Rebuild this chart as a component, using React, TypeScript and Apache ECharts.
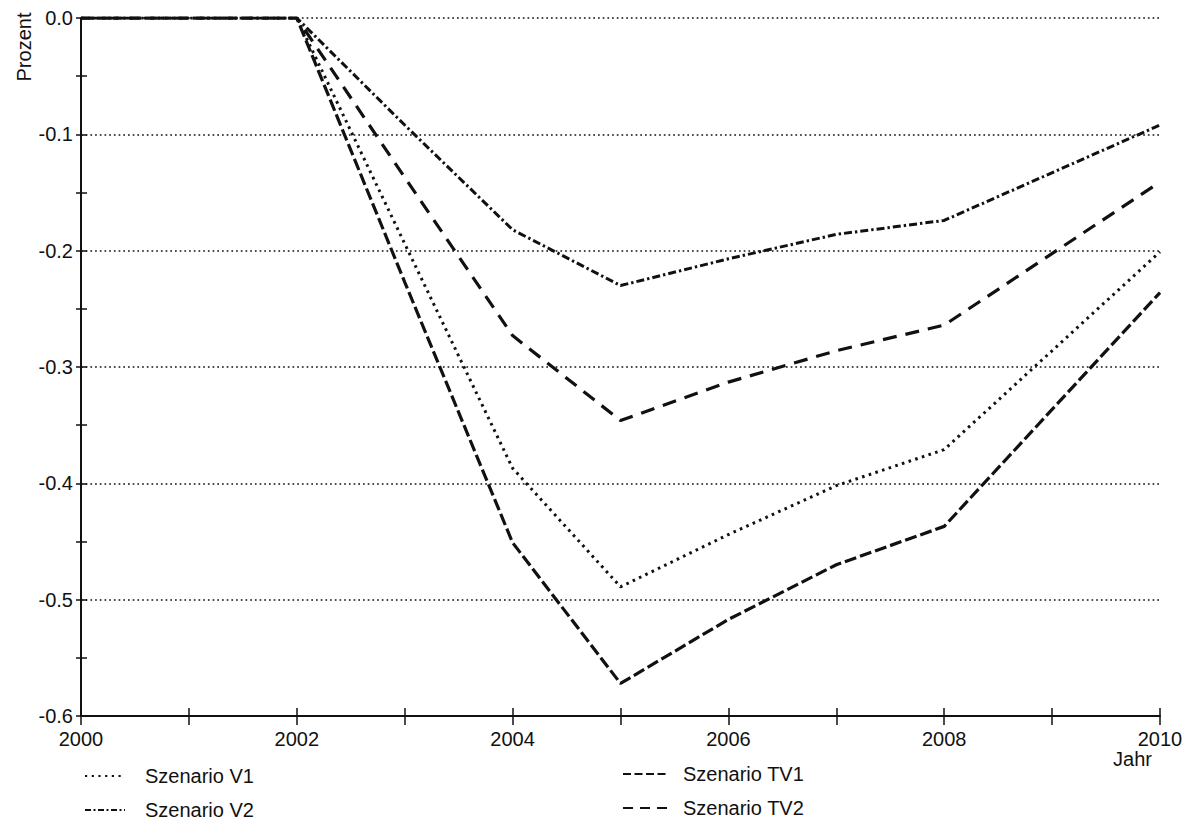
import React, { useEffect, useRef } from "react";
import * as echarts from "echarts";

// Simulated deviation (percent) per scenario, by year
const years = [2000, 2001, 2002, 2003, 2004, 2005, 2006, 2007, 2008, 2010];
const szenarioV1 = [0, 0, 0, -0.194, -0.387, -0.489, -0.444, -0.402, -0.371, -0.201];
const szenarioV2 = [0, 0, 0, -0.092, -0.182, -0.23, -0.207, -0.186, -0.174, -0.092];
const szenarioTV1 = [0, 0, 0, -0.227, -0.451, -0.572, -0.517, -0.47, -0.437, -0.236];
const szenarioTV2 = [0, 0, 0, -0.137, -0.273, -0.346, -0.313, -0.286, -0.264, -0.141];

const seriesNames = ["Szenario V1", "Szenario V2", "Szenario TV1", "Szenario TV2"];
const yLabelTitle = "Prozent";
const xLabelTitle = "Jahr";

const FONT = "'Liberation Sans', Arial, Helvetica, sans-serif";
const INK = "#111";

// Line dash patterns and widths per scenario
const dashes = [[2.6, 4.4], [8, 3, 2.4, 3], [12, 4], [14, 9]];
const legendDashes = [[2.2, 4.5], [6, 2.5, 2, 2.5], [8, 3.5], [10, 7]];
const widths = [3, 3, 3.2, 3.2];

const pairs = (vals: number[]) => years.map((y, i) => [y, vals[i]]);

export default function App() {
  const ref = useRef<HTMLDivElement>(null);

  useEffect(() => {
    if (!ref.current) return;
    const chart = echarts.init(ref.current, undefined, { renderer: "svg" });

    const lineSeries = (idx: number, vals: number[]) => ({
      name: seriesNames[idx],
      type: "line",
      data: pairs(vals),
      symbol: "none",
      showSymbol: false,
      xAxisIndex: 0,
      yAxisIndex: 0,
      lineStyle: { color: INK, width: widths[idx], type: dashes[idx], cap: "butt" },
      itemStyle: { color: INK },
      z: 5,
    });

    const xBase = {
      type: "value",
      min: 2000,
      max: 2010,
      interval: 1,
      position: "bottom",
      splitLine: { show: false },
    };
    const yBase = {
      type: "value",
      min: -0.6,
      max: 0,
      position: "left",
    };

    // Legend: two columns, each entry a dashed sample line followed by its name
    const legendSlots = [
      { x1: 85, x2: 125, tx: 145, y: 776 },
      { x1: 85, x2: 125, tx: 145, y: 810 },
      { x1: 623, x2: 667, tx: 683, y: 774 },
      { x1: 623, x2: 667, tx: 683, y: 808 },
    ];
    const legendGraphics: any[] = [];
    seriesNames.forEach((name, i) => {
      const s = legendSlots[i];
      legendGraphics.push({
        type: "line",
        shape: { x1: s.x1, y1: s.y, x2: s.x2, y2: s.y },
        style: { stroke: INK, lineWidth: 2.2, lineDash: legendDashes[i], lineCap: "butt" },
      });
      legendGraphics.push({
        type: "text",
        x: s.tx,
        y: s.y,
        style: { text: name, font: `20px ${FONT}`, fill: INK, align: "left", verticalAlign: "middle" },
      });
    });

    chart.setOption({
      animation: false,
      backgroundColor: "#fff",
      textStyle: { fontFamily: FONT, color: INK },
      grid: { left: 81, right: 44, top: 18, bottom: 107, containLabel: false },
      xAxis: [
        {
          ...xBase,
          axisLine: { show: true, onZero: false, lineStyle: { color: INK, width: 2 } },
          axisTick: { show: true, inside: false, length: 9, lineStyle: { color: INK, width: 1.5 } },
          axisLabel: {
            show: true,
            margin: 13,
            fontSize: 20,
            fontFamily: FONT,
            color: INK,
            formatter: (v: number) => (Math.round(v) % 2 === 0 ? String(Math.round(v)) : ""),
            showMinLabel: true,
            showMaxLabel: true,
          },
        },
        {
          ...xBase,
          axisLine: { show: false, onZero: false },
          axisTick: { show: true, inside: true, length: 8, lineStyle: { color: INK, width: 1.5 } },
          axisLabel: { show: false },
        },
      ],
      yAxis: [
        {
          ...yBase,
          interval: 0.05,
          axisLine: { show: true, onZero: false, lineStyle: { color: INK, width: 2 } },
          axisTick: { show: true, inside: false, length: 5, lineStyle: { color: INK, width: 1.5 } },
          axisLabel: {
            show: true,
            margin: 8,
            fontSize: 20,
            fontFamily: FONT,
            color: INK,
            formatter: (v: number) =>
              Math.abs(Math.round(v * 100)) % 10 === 0
                ? (Math.round(v * 10) / 10).toFixed(1).replace("-0.0", "0.0")
                : "",
          },
          splitLine: { show: false },
        },
        {
          ...yBase,
          interval: 0.05,
          axisLine: { show: false, onZero: false },
          axisTick: { show: true, inside: true, length: 6, lineStyle: { color: INK, width: 1.5 } },
          axisLabel: { show: false },
          splitLine: { show: false },
        },
        {
          ...yBase,
          interval: 0.1,
          axisLine: { show: false, onZero: false },
          axisTick: { show: false },
          axisLabel: { show: false },
          splitLine: { show: true, lineStyle: { color: INK, width: 1.7, type: [1.7, 3] } },
        },
      ],
      graphic: [
        {
          type: "text",
          x: 24,
          y: 47,
          rotation: Math.PI / 2,
          style: {
            text: yLabelTitle,
            font: `20px ${FONT}`,
            fill: INK,
            align: "center",
            verticalAlign: "middle",
          },
        },
        {
          type: "text",
          x: 1152,
          y: 759,
          style: {
            text: xLabelTitle,
            font: `20px ${FONT}`,
            fill: INK,
            align: "right",
            verticalAlign: "middle",
          },
        },
        ...legendGraphics,
      ],
      series: [
        lineSeries(0, szenarioV1),
        lineSeries(1, szenarioV2),
        lineSeries(2, szenarioTV1),
        lineSeries(3, szenarioTV2),
      ],
    });

    return () => chart.dispose();
  }, []);

  return (
    <div
      ref={ref}
      style={{ position: "fixed", left: 0, top: 0, width: 1204, height: 823, background: "#fff" }}
    />
  );
}
